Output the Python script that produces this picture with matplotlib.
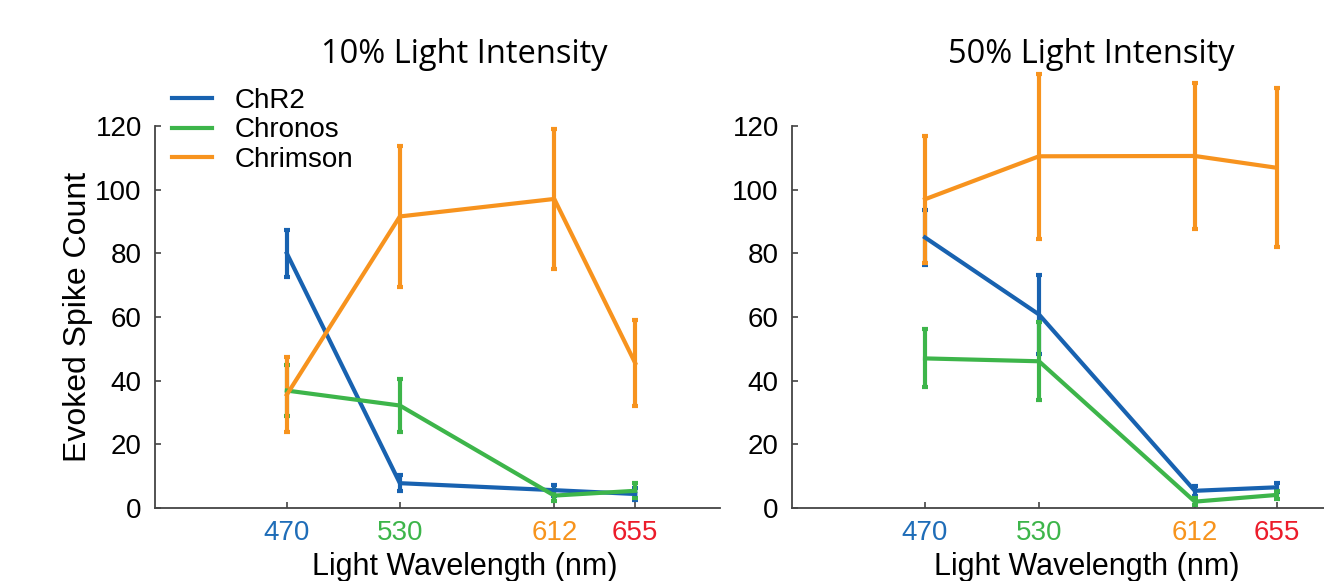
import matplotlib
matplotlib.use("Agg")
import matplotlib.pyplot as plt
from matplotlib.lines import Line2D

wavelengths = [470, 530, 612, 655]
tick_colors = ["#1F6DB8", "#3DB54A", "#F7941D", "#EC1C2A"]
series_names = ["ChR2", "Chronos", "Chrimson"]
series_colors = ["#1862B0", "#3DB54A", "#F7931E"]

# 10% light intensity
chr2_10 = [80, 7.8, 5.6, 4.4]
chr2_10_err = [7.5, 2.6, 1.7, 1.9]
chronos_10 = [36.9, 32.2, 3.9, 5.4]
chronos_10_err = [8.0, 8.2, 1.8, 2.4]
chrimson_10 = [35.6, 91.6, 97.1, 45.5]
chrimson_10_err = [11.8, 22.1, 22.0, 13.5]

# 50% light intensity
chr2_50 = [85.0, 60.8, 5.4, 6.5]
chr2_50_err = [8.6, 12.5, 1.6, 1.4]
chronos_50 = [47.0, 46.1, 2.0, 4.1]
chronos_50_err = [9.1, 12.2, 1.0, 1.3]
chrimson_50 = [97.0, 110.5, 110.6, 106.9]
chrimson_50_err = [20.0, 26.0, 23.0, 25.0]

titles = ["10% Light Intensity", "50% Light Intensity"]
yticks = [0, 20, 40, 60, 80, 100, 120]

FONT = "Liberation Sans"
TITLE_FONT = "Open Sans"
W, H = 1324, 581

fig = plt.figure(figsize=(13.24, 5.81), dpi=100)
axL = fig.add_axes([155/W, 73/H, 565/W, 445.6/H])
axR = fig.add_axes([792/W, 73/H, 570/W, 445.6/H])

panels = [
    (axL, [chr2_10, chronos_10, chrimson_10], [chr2_10_err, chronos_10_err, chrimson_10_err], 0.549),
    (axR, [chr2_50, chronos_50, chrimson_50], [chr2_50_err, chronos_50_err, chrimson_50_err], 0.5175),
]

for ax, vals, errs, xlab_x in panels:
    for name, color, v, e in zip(series_names, series_colors, vals, errs):
        ax.errorbar(wavelengths, v, yerr=e, color=color, lw=3.0, elinewidth=3.0,
                    capsize=2.2, capthick=3.0, label=name)
    ax.set_xlim(400, 700)
    ax.set_ylim(0, 140)
    ax.spines["top"].set_visible(False)
    ax.spines["right"].set_visible(False)
    for s in ["left", "bottom"]:
        ax.spines[s].set_color("#444444")
        ax.spines[s].set_linewidth(1.3)
    ax.spines["left"].set_bounds(0, 120)
    ax.set_yticks(yticks)
    ax.set_xticks(wavelengths)
    ax.set_xticklabels([str(w) for w in wavelengths])
    ax.tick_params(direction="in", length=4, width=1.2, color="#444444",
                   labelsize=20)
    ax.tick_params(axis="y", pad=9.5)
    ax.tick_params(axis="x", pad=8.5)
    for lbl, c in zip(ax.get_xticklabels(), tick_colors):
        lbl.set_color(c)
        lbl.set_fontfamily(FONT)
    for lbl in ax.get_yticklabels():
        lbl.set_fontfamily(FONT)
    ax.set_xlabel("Light Wavelength (nm)", fontsize=22, fontfamily=FONT)
    ax.xaxis.set_label_coords(xlab_x, -0.098)
    ax.xaxis.label.set_verticalalignment("top")
    ax.patch.set_alpha(0)

axL.set_ylabel("Evoked Spike Count", fontsize=23, fontfamily=FONT)
axL.yaxis.set_label_coords(-(155 - 78) / 565, 60 / 140)
axL.yaxis.label.set_verticalalignment("center")

fig.text(464/W, 1 - 63/H, titles[0], ha="center", va="baseline",
         fontsize=23.5, fontfamily=TITLE_FONT)
fig.text(1091/W, 1 - 63/H, titles[1], ha="center", va="baseline",
         fontsize=23.5, fontfamily=TITLE_FONT)

handles = [Line2D([0], [0], color=c, lw=3.0) for c in series_colors]
fig.legend(handles, series_names, loc="upper left",
           bbox_to_anchor=(172/W, 1 - 88/H), frameon=False,
           prop={"family": FONT, "size": 20}, handlelength=1.45,
           handletextpad=0.8, labelspacing=0.12, borderpad=0.0,
           borderaxespad=0.0)

fig.savefig("out.png", dpi=100)
